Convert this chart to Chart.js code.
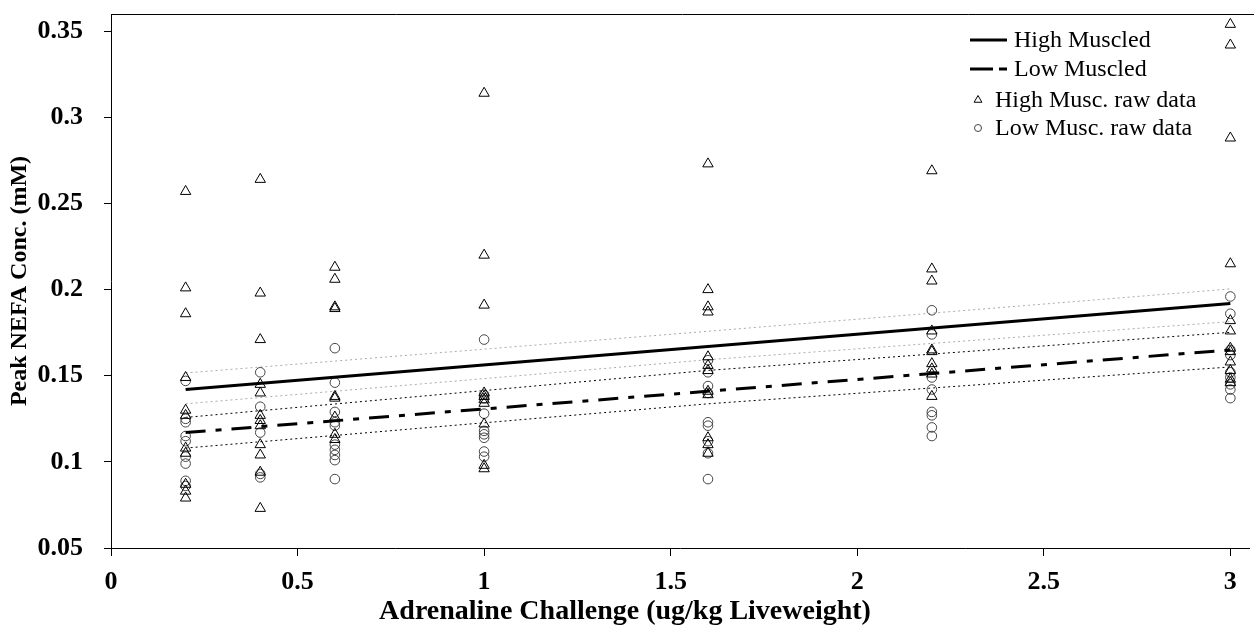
<!DOCTYPE html>
<html><head><meta charset="utf-8">
<script src="https://cdn.jsdelivr.net/npm/chart.js@4.4.0/dist/chart.umd.min.js"></script>
<style>html,body{margin:0;padding:0;background:#fff;}#wrap{width:1256px;height:637px;}</style>
</head><body><div id="wrap"><canvas id="c" width="1256" height="637"></canvas></div>
<script>
// ---- data ----
const xTicks = [0, 0.5, 1, 1.5, 2, 2.5, 3];
const xTickLabels = ['0', '0.5', '1', '1.5', '2', '2.5', '3'];
const yTicks = [0.05, 0.1, 0.15, 0.2, 0.25, 0.3, 0.35];
const yTickLabels = ['0.05', '0.1', '0.15', '0.2', '0.25', '0.3', '0.35'];

const doses = [0.2, 0.4, 0.6, 1, 1.6, 2.2, 3];
const high02 = [0.257, 0.201, 0.186, 0.149, 0.130, 0.127, 0.108, 0.105, 0.087, 0.083, 0.079];
const high04 = [0.264, 0.198, 0.171, 0.145, 0.140, 0.127, 0.124, 0.121, 0.110, 0.104, 0.094, 0.073];
const high06 = [0.213, 0.206, 0.190, 0.189, 0.138, 0.137, 0.126, 0.116, 0.113];
const high1  = [0.314, 0.220, 0.191, 0.140, 0.138, 0.136, 0.134, 0.122, 0.098, 0.096];
const high16 = [0.273, 0.200, 0.190, 0.187, 0.161, 0.156, 0.153, 0.141, 0.139, 0.114, 0.110, 0.105];
const high22 = [0.269, 0.212, 0.205, 0.176, 0.165, 0.164, 0.157, 0.154, 0.151, 0.138];
const high3  = [0.354, 0.342, 0.288, 0.215, 0.182, 0.176, 0.166, 0.164, 0.158, 0.153, 0.148, 0.146];

const low02 = [0.147, 0.125, 0.123, 0.115, 0.112, 0.103, 0.099, 0.089, 0.086];
const low04 = [0.152, 0.132, 0.117, 0.093, 0.091];
const low06 = [0.166, 0.146, 0.129, 0.123, 0.121, 0.110, 0.107, 0.104, 0.101, 0.090];
const low1  = [0.171, 0.139, 0.137, 0.128, 0.118, 0.116, 0.114, 0.106, 0.103];
const low16 = [0.159, 0.152, 0.144, 0.140, 0.123, 0.121, 0.112, 0.105, 0.090];
const low22 = [0.188, 0.174, 0.149, 0.142, 0.129, 0.127, 0.120, 0.115];
const low3  = [0.196, 0.186, 0.165, 0.162, 0.152, 0.149, 0.145, 0.142, 0.137];

const fitX = [0.2, 3];
const highFit = [0.142, 0.192];
const lowFit = [0.117, 0.165];
const ciX = [0.2, 1.6, 3];
const highUpper = [0.1516, 0.1758, 0.2004];
const highLower = [0.1337, 0.1593, 0.1814];
const lowUpper = [0.1258, 0.1531, 0.1752];
const lowLower = [0.1080, 0.1337, 0.1551];

// ---- build ----
const FAMILY = '"Liberation Serif", "Times New Roman", serif';
Chart.defaults.font.family = FAMILY;
Chart.defaults.color = '#000';

const pairs = (xs, ys) => ys.map((y, i) => ({x: xs[i], y}));
const column = (x, ys) => ys.map(y => ({x, y}));
const highCols = [high02, high04, high06, high1, high16, high22, high3];
const lowCols = [low02, low04, low06, low1, low16, low22, low3];
const highPts = [].concat(...highCols.map((c, i) => column(doses[i], c)));
const lowPts = [].concat(...lowCols.map((c, i) => column(doses[i], c)));

const lineDs = (label, xs, ys, color, width, dash) => ({
  label, type: 'scatter', data: pairs(xs, ys), showLine: true, borderColor: color,
  borderWidth: width, borderDash: dash, pointRadius: 0, fill: false, tension: 0
});

const insideLegend = {
  id: 'insideLegend',
  afterDatasetsDraw(chart, args, opts) {
    const ctx = chart.ctx;
    ctx.save();
    ctx.font = opts.fontSize + 'px ' + FAMILY;
    ctx.textBaseline = 'middle';
    ctx.fillStyle = '#000';
    opts.items.forEach(it => {
      const ds = chart.data.datasets[it.dataset];
      if (it.kind === 'line') {
        ctx.save();
        ctx.strokeStyle = ds.borderColor;
        ctx.lineWidth = ds.borderWidth;
        ctx.setLineDash(it.dash || []);
        ctx.beginPath();
        ctx.moveTo(it.x0, it.y);
        ctx.lineTo(it.x1, it.y);
        ctx.stroke();
        ctx.restore();
      } else {
        ctx.save();
        ctx.strokeStyle = ds.borderColor;
        ctx.fillStyle = 'rgba(0,0,0,0)';
        ctx.lineWidth = ds.borderWidth;
        Chart.helpers.drawPoint(ctx, {pointStyle: ds.pointStyle, radius: it.r, borderWidth: ds.borderWidth, rotation: 0}, it.mx, it.y);
        ctx.restore();
      }
      ctx.fillStyle = '#000';
      ctx.fillText(ds.label, it.tx, it.y + 1);
    });
    ctx.restore();
  }
};

const topBorder = {
  id: 'topBorder',
  afterDraw(chart) {
    const {ctx, chartArea} = chart;
    ctx.save();
    ctx.strokeStyle = '#000';
    ctx.lineWidth = 1;
    const y = Math.round(chartArea.top) + 0.5;
    ctx.beginPath();
    ctx.moveTo(chartArea.left, y);
    ctx.lineTo(chart.width - 2, y);
    ctx.stroke();
    ctx.restore();
  }
};

new Chart(document.getElementById('c'), {
  type: 'scatter',
  data: {
    datasets: [
      lineDs('High Muscled', fitX, highFit, '#000', 3, []),
      lineDs('Low Muscled', fitX, lowFit, '#000', 3, [20, 10, 6, 10]),
      { label: 'High Musc. raw data', data: highPts, pointStyle: 'triangle', pointRadius: 6,
        borderColor: '#000', borderWidth: 1, backgroundColor: 'rgba(0,0,0,0)', showLine: false },
      { label: 'Low Musc. raw data', data: lowPts, pointStyle: 'circle', pointRadius: 4.8,
        borderColor: '#444', borderWidth: 1, backgroundColor: 'rgba(0,0,0,0)', showLine: false },
      lineDs('High upper', ciX, highUpper, '#aaaaaa', 1, [2, 3]),
      lineDs('High lower', ciX, highLower, '#aaaaaa', 1, [2, 3]),
      lineDs('Low upper', ciX, lowUpper, '#000', 1, [2, 3]),
      lineDs('Low lower', ciX, lowLower, '#000', 1, [2, 3])
    ]
  },
  options: {
    responsive: false,
    animation: false,
    events: [],
    layout: { padding: { top: 14, right: 6, left: 0, bottom: 0 } },
    plugins: {
      legend: { display: false },
      tooltip: { enabled: false },
      title: {
        display: true, position: 'bottom', text: 'Adrenaline Challenge (ug/kg Liveweight)',
        font: { size: 28, weight: 'bold', family: FAMILY }, color: '#000',
        padding: { top: 0, bottom: 8.2 }
      },
      insideLegend: {
        fontSize: 24,
        items: [
          { dataset: 0, kind: 'line', x0: 970, x1: 1007, y: 40, tx: 1014 },
          { dataset: 1, kind: 'line', x0: 970, x1: 1007, y: 69, tx: 1014, dash: [23, 6, 8, 40] },
          { dataset: 2, kind: 'point', mx: 978, r: 4.5, y: 100, tx: 995 },
          { dataset: 3, kind: 'point', mx: 978, r: 3.5, y: 128, tx: 995 }
        ]
      }
    },
    scales: {
      x: {
        type: 'linear', min: 0, max: 3.05,
        afterBuildTicks: s => { s.ticks = xTicks.map(v => ({ value: v })); },
        afterFit: s => { s.height = 47.2; },
        ticks: { callback: (v, i) => xTickLabels[i], font: { size: 26, weight: 'bold', lineHeight: 1.2 },
                 padding: 11, maxRotation: 0, autoSkip: false, color: '#000' },
        grid: { drawOnChartArea: false, drawTicks: true, tickLength: 8, color: '#000', lineWidth: 1 },
        border: { display: true, color: '#000', width: 1 }
      },
      y: {
        type: 'linear', min: 0.05, max: 0.36,
        afterBuildTicks: s => { s.ticks = yTicks.map(v => ({ value: v })); },
        afterFit: s => { s.width = 111; },
        ticks: { callback: (v, i) => yTickLabels[i], font: { size: 26, weight: 'bold', lineHeight: 1.0 },
                 padding: 0, autoSkip: false, color: '#000' },
        grid: { drawOnChartArea: false, drawTicks: true, tickLength: 28, color: '#000', lineWidth: 1,
                tickBorderDash: [7, 21], tickBorderDashOffset: 7 },
        border: { display: true, color: '#000', width: 1 },
        title: { display: true, text: 'Peak NEFA Conc. (mM)', font: { size: 24, weight: 'bold' },
                 color: '#000', padding: { top: 5, bottom: 0 } }
      }
    }
  },
  plugins: [insideLegend, topBorder]
});
</script>
</body></html>
